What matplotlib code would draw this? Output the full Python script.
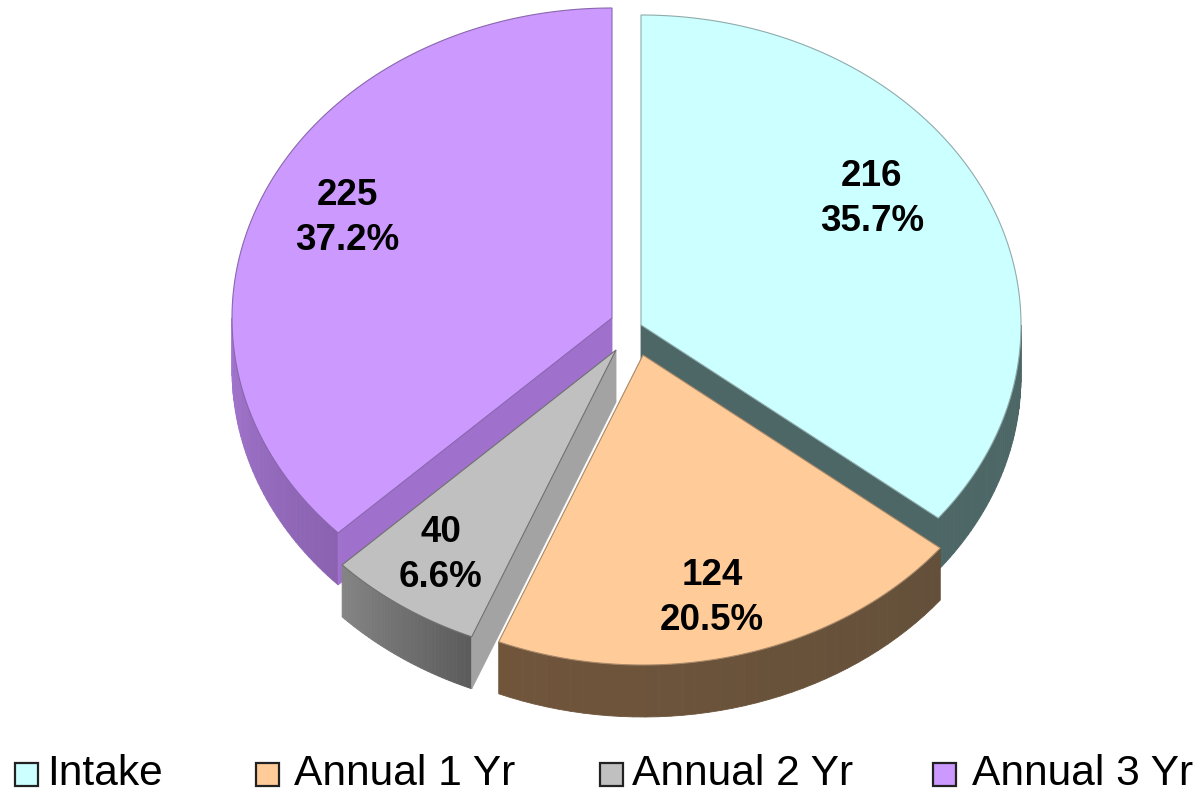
import numpy as np
import matplotlib
matplotlib.use("Agg")
import matplotlib.pyplot as plt
from matplotlib.patches import Polygon, Rectangle
from matplotlib.colors import to_rgb

plt.rcParams['font.family'] = ['Liberation Sans', 'DejaVu Sans']

categories = ["Intake", "Annual 1 Yr", "Annual 2 Yr", "Annual 3 Yr"]
counts = [216, 124, 40, 225]
top_colors = ["#CCFFFF", "#FFCC99", "#C0C0C0", "#CC99FF"]
cut_colors = ["#4D6666", "#66503A", "#A3A3A3", "#A071CC"]
wall_start = ["#4D6666", "#64503A", "#5C5C5C", "#8A62B0"]
wall_end = ["#4D6666", "#70553B", "#848484", "#A275CE"]
edge_colors = ["#8FABAB", "#A88868", "#707070", "#8A66AE"]

# layout, in image pixels
apex = [(641, 325), (643, 355), (616, 350), (612, 318)]
label_pos = [(872, 199), (712, 598), (441, 555), (347, 218)]
legend_box_x = [15, 256, 600, 933]
legend_text_x = [47, 294, 632, 972]
rx, ry, depth = 380, 310, 52

total = sum(counts)
ends = np.cumsum(counts) / total * 2 * np.pi
starts = np.concatenate([[0], ends[:-1]])

fig = plt.figure(figsize=(11.98, 7.93), dpi=100)
ax = fig.add_axes([0, 0, 1, 1])
ax.set_xlim(0, 1198)
ax.set_ylim(793, 0)
ax.axis('off')


def rim(c, a):
    return c[0] + rx * np.sin(a), c[1] - ry * np.cos(a)


def draw_wall(i):
    # only the front half of the rim can be seen
    a0 = max(starts[i], np.pi / 2)
    a1 = min(ends[i], 3 * np.pi / 2)
    if a1 <= a0:
        return
    edges = np.linspace(a0, a1, 40)
    c0, c1 = np.array(to_rgb(wall_start[i])), np.array(to_rgb(wall_end[i]))
    for k in range(len(edges) - 1):
        xs, ys = rim(apex[i], edges[k:k + 2])
        pts = [(xs[0], ys[0]), (xs[1], ys[1]), (xs[1], ys[1] + depth), (xs[0], ys[0] + depth)]
        t = k / (len(edges) - 2)
        col = c0 + (c1 - c0) * t
        ax.add_patch(Polygon(pts, closed=True, fc=col, ec=col, lw=0.6))


def draw_cut(i, a):
    x, y = rim(apex[i], a)
    ax0, ay0 = apex[i]
    pts = [(ax0, ay0), (x, y), (x, y + depth), (ax0, ay0 + depth)]
    ax.add_patch(Polygon(pts, closed=True, fc=cut_colors[i], ec=cut_colors[i], lw=0.6))


def draw_top(i):
    xs, ys = rim(apex[i], np.linspace(starts[i], ends[i], 200))
    pts = [apex[i]] + list(zip(xs, ys))
    ax.add_patch(Polygon(pts, closed=True, fc=top_colors[i], ec=edge_colors[i], lw=0.8))


# back slices first, the two front ones cover them
draw_wall(0)
draw_cut(0, ends[0])
draw_top(0)

draw_wall(3)
draw_cut(3, starts[3])
draw_top(3)

draw_wall(2)
draw_cut(2, starts[2])
draw_top(2)

draw_wall(1)
draw_top(1)

for i in range(len(counts)):
    pct = counts[i] / total * 100
    ax.text(label_pos[i][0], label_pos[i][1], f"{counts[i]}\n{pct:.1f}%", ha='center', va='center',
            fontsize=26.5, fontweight='bold', color='black', linespacing=1.36)

    ax.add_patch(Rectangle((legend_box_x[i], 763), 23, 23, fc=top_colors[i], ec='#222222', lw=1.6))
    ax.text(legend_text_x[i], 774, categories[i], ha='left', va='center', fontsize=30.6, color='black')

fig.savefig("out.png", dpi=100, facecolor='white')
